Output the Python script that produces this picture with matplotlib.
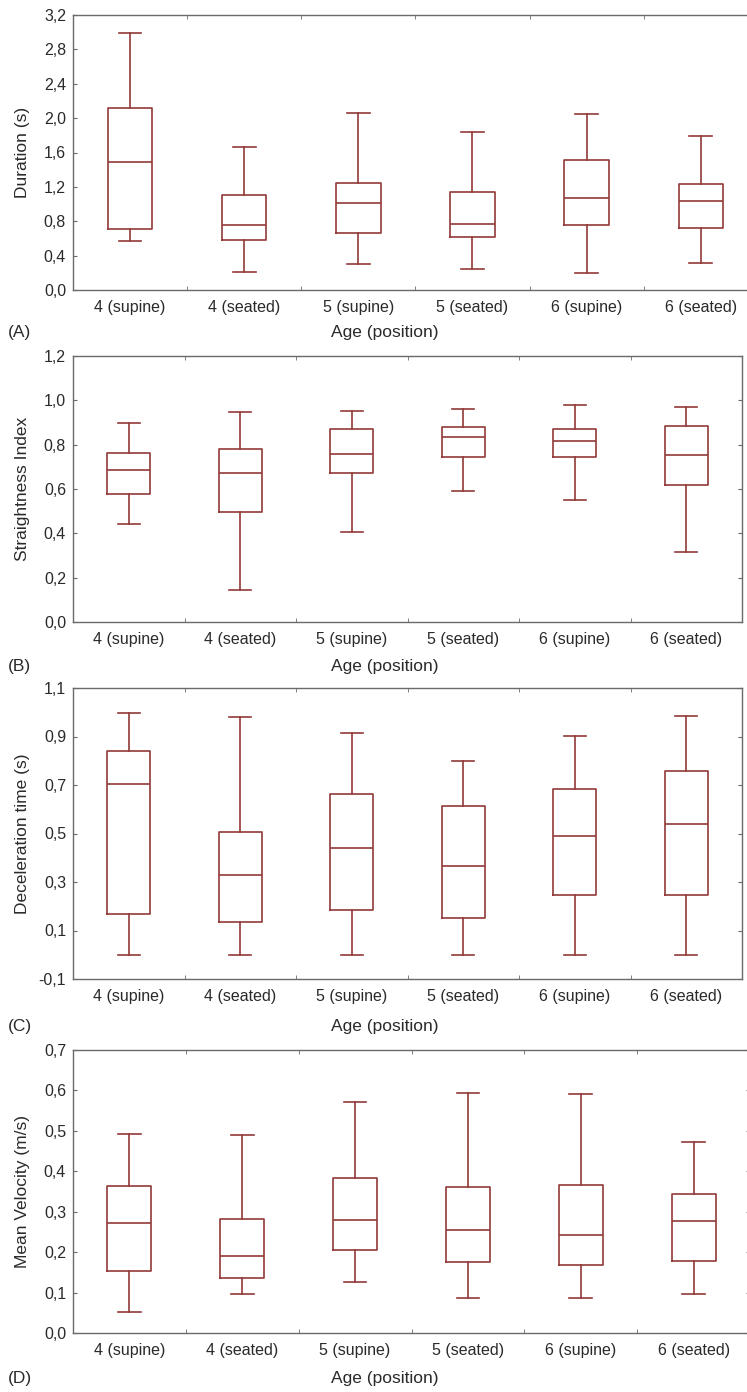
import matplotlib
matplotlib.use("Agg")
import matplotlib.pyplot as plt
import numpy as np

plt.rcParams['font.family'] = ['Liberation Sans', 'DejaVu Sans']

groups = ["4 (supine)", "4 (seated)", "5 (supine)", "5 (seated)", "6 (supine)", "6 (seated)"]

# Panel A: Duration (s)
dur_low = [0.565, 0.21, 0.30, 0.25, 0.195, 0.32]
dur_q1 = [0.71, 0.58, 0.66, 0.615, 0.76, 0.72]
dur_med = [1.49, 0.76, 1.01, 0.77, 1.075, 1.03]
dur_q3 = [2.12, 1.10, 1.24, 1.14, 1.51, 1.235]
dur_high = [2.99, 1.66, 2.06, 1.84, 2.05, 1.79]

# Panel B: Straightness Index
si_low = [0.44, 0.146, 0.404, 0.59, 0.55, 0.315]
si_q1 = [0.577, 0.497, 0.673, 0.743, 0.743, 0.616]
si_med = [0.685, 0.67, 0.76, 0.836, 0.815, 0.754]
si_q3 = [0.762, 0.78, 0.869, 0.881, 0.869, 0.882]
si_high = [0.90, 0.946, 0.952, 0.959, 0.979, 0.970]

# Panel C: Deceleration time (s)
dec_low = [0.0, 0.0, 0.0, 0.0, 0.0, 0.0]
dec_q1 = [0.167, 0.134, 0.186, 0.153, 0.247, 0.247]
dec_med = [0.704, 0.329, 0.442, 0.366, 0.491, 0.541]
dec_q3 = [0.842, 0.505, 0.661, 0.615, 0.684, 0.759]
dec_high = [0.997, 0.979, 0.915, 0.797, 0.904, 0.984]

# Panel D: Mean Velocity (m/s)
vel_low = [0.051, 0.096, 0.127, 0.086, 0.087, 0.096]
vel_q1 = [0.154, 0.135, 0.205, 0.175, 0.168, 0.179]
vel_med = [0.273, 0.190, 0.280, 0.254, 0.243, 0.277]
vel_q3 = [0.364, 0.283, 0.384, 0.362, 0.366, 0.343]
vel_high = [0.492, 0.489, 0.572, 0.594, 0.591, 0.472]

ticks_a = [0.0, 0.4, 0.8, 1.2, 1.6, 2.0, 2.4, 2.8, 3.2]
ticks_b = [0.0, 0.2, 0.4, 0.6, 0.8, 1.0, 1.2]
ticks_c = [-0.1, 0.1, 0.3, 0.5, 0.7, 0.9, 1.1]
ticks_d = [0.0, 0.1, 0.2, 0.3, 0.4, 0.5, 0.6, 0.7]

BOX = "#933a3a"
SPINE = "#6a6a6a"
W, H = 747, 1392


def make_stats(low, q1, med, q3, high):
    return [dict(whislo=a, q1=b, med=c, q3=d, whishi=e, fliers=[])
            for a, b, c, d, e in zip(low, q1, med, q3, high)]


def draw_panel(rect_px, stats, ticks, ylabel, letter, xmax, label_y):
    left, top, right, bottom = rect_px
    ax = fig.add_axes([left / W, 1 - bottom / H, (right - left) / W, (bottom - top) / H])
    lp = dict(color=BOX, linewidth=1.2)
    ax.bxp(stats, positions=range(len(groups)), widths=0.39, capwidths=0.2,
           showfliers=False, boxprops=lp, whiskerprops=lp, capprops=lp,
           medianprops=lp, manage_ticks=False)
    ax.set_xlim(-0.5, xmax)
    ax.set_ylim(ticks[0], ticks[-1])
    ax.set_yticks(ticks)
    ax.set_yticklabels([f"{t:.1f}".replace(".", ",") for t in ticks])
    ax.set_xticks(range(len(groups)))
    ax.set_xticklabels(groups)
    ax.set_xticks(np.arange(0.5, len(groups) - 0.5, 1.0), minor=True)
    ax.tick_params(axis="x", which="major", length=0, pad=7, labelsize=11.5, colors="#2a2a2a")
    ax.tick_params(axis="x", which="minor", direction="in", length=3, top=True,
                   bottom=True, color=SPINE)
    ax.tick_params(axis="y", direction="in", length=3, right=True, pad=5,
                   labelsize=11.5, colors="#2a2a2a")
    ax.tick_params(axis="y", color=SPINE)
    for s in ax.spines.values():
        s.set_color(SPINE)
        s.set_linewidth(1.0)
    ax.set_ylabel(ylabel, fontsize=12.5, color="#2a2a2a")
    ax.yaxis.set_label_coords(-43 / (right - left), 0.5)
    fig.text(8 / W, 1 - label_y / H, letter, fontsize=12.5, va="center", color="#2a2a2a")
    fig.text(385 / W, 1 - label_y / H, "Age (position)", fontsize=12.5,
             va="center", ha="center", color="#2a2a2a")
    return ax


fig = plt.figure(figsize=(W / 100, H / 100), dpi=100)

draw_panel((73, 15, 751, 290), make_stats(dur_low, dur_q1, dur_med, dur_q3, dur_high),
           ticks_a, "Duration (s)", "(A)", 5.44, 332)
draw_panel((73, 356, 742, 622), make_stats(si_low, si_q1, si_med, si_q3, si_high),
           ticks_b, "Straightness Index", "(B)", 5.5, 666)
draw_panel((73, 688, 742, 979), make_stats(dec_low, dec_q1, dec_med, dec_q3, dec_high),
           ticks_c, "Deceleration time (s)", "(C)", 5.5, 1027)
draw_panel((73, 1050, 750, 1333), make_stats(vel_low, vel_q1, vel_med, vel_q3, vel_high),
           ticks_d, "Mean Velocity (m/s)", "(D)", 5.5, 1378)

fig.savefig("out.png", dpi=100, facecolor="white")
